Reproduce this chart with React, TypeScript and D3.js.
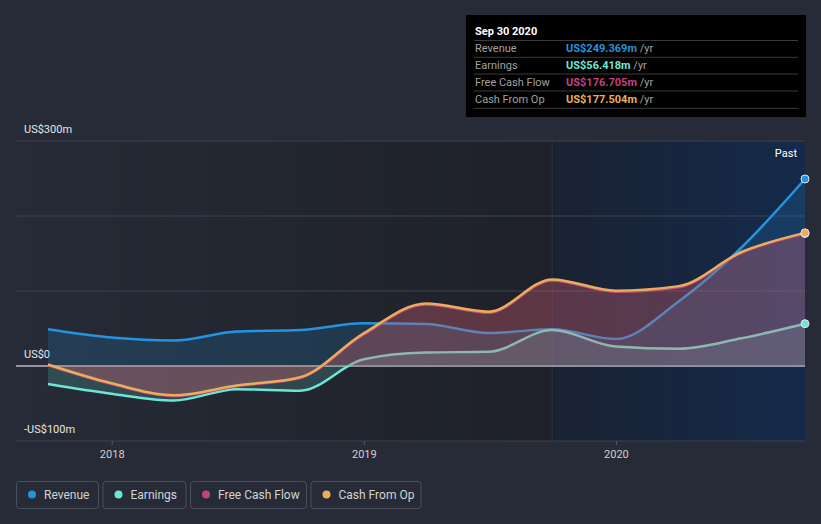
import React from "react";
import * as d3 from "d3";

const dates = ["2017-09-30","2017-12-31","2018-03-31","2018-06-30","2018-09-30","2018-12-31","2019-03-31","2019-06-30","2019-09-30","2019-12-31","2020-03-31","2020-06-30","2020-09-30"];
const revenue = [49, 38, 34, 46, 48, 57, 56, 44, 49, 36, 86, 158, 249.369];
const earnings = [-24, -37, -46, -31, -33, 9, 18, 19, 48, 26, 23, 37, 56.418];
const freeCashFlow = [1, -24, -40, -27, -16, 42, 82, 71, 114, 99, 105, 151, 176.705];
const cashFromOp = [2, -23, -39, -26, -15, 43.5, 83.5, 72.5, 115.5, 100.5, 106.5, 152, 177.504];
const yTicks = [300, 200, 100, 0, -100];
const yLabels = [{ v: 300, t: "US$300m" }, { v: 0, t: "US$0" }, { v: -100, t: "-US$100m" }];
const xTickYears = ["2018", "2019", "2020"];

const seriesList = [
  { name: "Revenue", values: revenue, color: "#2394df", fill: "#2394df", fo: 0.18, tip: "US$249.369m" },
  { name: "Earnings", values: earnings, color: "#6ce6d6", fill: "#6ce6d6", fo: 0.18, tip: "US$56.418m" },
  { name: "Free Cash Flow", values: freeCashFlow, color: "#c4417f", fill: "#c4417f", fo: 0.28, tip: "US$176.705m" },
  { name: "Cash From Op", values: cashFromOp, color: "#e9ae5b", fill: "#e9ae5b", fo: 0.1, tip: "US$177.504m" },
];

const W = 821, H = 524;
const FONT = "Roboto, 'Open Sans', sans-serif";

export default function App() {
  const parse = d3.timeParse("%Y-%m-%d");
  const ds = dates.map((d) => parse(d) as Date);
  const x = d3.scaleTime().domain([ds[0], ds[ds.length - 1]]).range([48, 805]);
  const y = d3.scaleLinear().domain([-100, 300]).range([441, 141]);
  const line = d3.line<number>().x((_, i) => x(ds[i])).y((v) => y(v)).curve(d3.curveMonotoneX);
  const area = d3.area<number>().x((_, i) => x(ds[i])).y0(y(0)).y1((v) => y(v)).curve(d3.curveMonotoneX);
  const pastX = x(parse("2019-09-30") as Date);
  const legendW = [82, 83, 116, 110];
  let lx = 16;
  const legendPos = legendW.map((w) => { const p = lx; lx += w + 4.5; return p; });

  return (
    <svg width={W} height={H} style={{ position: "absolute", left: 0, top: 0, background: "#262b37", fontFamily: FONT }}>
      <defs>
        <linearGradient id="plotbg" x1="0" x2="1" y1="0" y2="0">
          <stop offset="0" stopColor="#262b37" />
          <stop offset="1" stopColor="#1e2129" />
        </linearGradient>
        <linearGradient id="pastbg" x1="0" x2="1" y1="0" y2="0">
          <stop offset="0" stopColor="#1a2232" />
          <stop offset="1" stopColor="#142a4b" />
        </linearGradient>
      </defs>
      <rect x={0} y={0} width={W} height={H} fill="#262b37" />
      <rect x={16} y={141} width={pastX - 16} height={300} fill="url(#plotbg)" />
      <rect x={pastX} y={141} width={805 - pastX} height={300} fill="url(#pastbg)" />
      <line x1={pastX} x2={pastX} y1={141} y2={441} stroke="#24324a" strokeWidth={1} />
      {yTicks.map((t) => (
        <line key={t} x1={16} x2={805} y1={y(t)} y2={y(t)} stroke={t === 0 ? "#ffffff" : "#3c424e"} strokeWidth={t === 0 ? 1.2 : 1} />
      ))}
      {yLabels.map((l) => (
        <text key={l.v} x={24} y={y(l.v) - 8} fill="#e6e6e6" fontSize={11}>{l.t}</text>
      ))}
      {xTickYears.map((yr) => {
        const xx = x(parse(`${yr}-01-01`) as Date);
        return (
          <g key={yr}>
            <line x1={xx} x2={xx} y1={441} y2={445} stroke="#555b66" />
            <text x={xx} y={458} textAnchor="middle" fill="#d0d0d0" fontSize={11}>{yr}</text>
          </g>
        );
      })}
      <text x={797} y={157} textAnchor="end" fill="#ffffff" fontSize={11}>Past</text>
      {seriesList.map((s) => (
        <g key={s.name}>
          <path d={area(s.values) || ""} fill={s.fill} fillOpacity={s.fo} />
          <path d={line(s.values) || ""} fill="none" stroke={s.color} strokeWidth={2.5} />
        </g>
      ))}
      {seriesList.map((s) => (
        <circle key={s.name} cx={805} cy={y(s.values[s.values.length - 1])} r={4} fill={s.color} stroke="#dfe6ee" strokeWidth={1} />
      ))}
      <g>
        <rect x={466} y={15} width={340} height={102} fill="#000000" />
        <text x={475} y={35} fill="#ffffff" fontSize={11} fontWeight="bold">Sep 30 2020</text>
        {[40.5, 57.3, 74, 91, 108.3].map((ly) => (
          <line key={ly} x1={474} x2={798} y1={ly} y2={ly} stroke="#3a3a3a" />
        ))}
        {seriesList.map((s, i) => (
          <g key={s.name}>
            <text x={475} y={52 + i * 17} fill="#a0a0a0" fontSize={11}>{s.name}</text>
            <text x={566} y={52 + i * 17} fontSize={11}>
              <tspan fill={s.color} fontWeight="bold">{s.tip}</tspan>
              <tspan fill="#a0a0a0"> /yr</tspan>
            </text>
          </g>
        ))}
      </g>
      {seriesList.map((s, i) => (
        <g key={s.name} transform={`translate(${legendPos[i]},481)`}>
          <rect x={0.5} y={0.5} width={legendW[i]} height={27} rx={3} fill="none" stroke="#4a505c" />
          <circle cx={16} cy={13.5} r={4} fill={s.color} />
          <text x={28} y={17.5} fill="#d4d4d4" fontSize={12}>{s.name}</text>
        </g>
      ))}
    </svg>
  );
}
